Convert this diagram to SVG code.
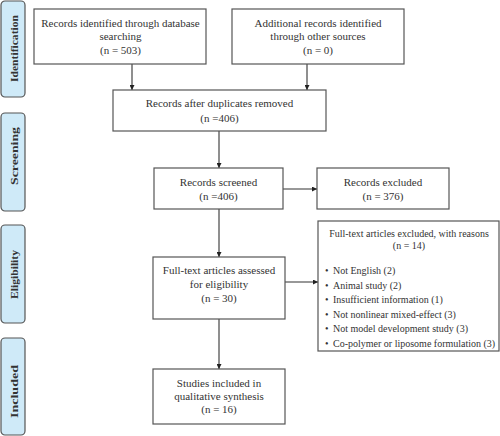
<svg xmlns="http://www.w3.org/2000/svg" width="500" height="436" viewBox="0 0 500 436">
<style>
.box{fill:#fff;stroke:#555;stroke-width:1.2}
.side{fill:#cfeaf8;stroke:#555;stroke-width:1.2}
.t{font-family:"Liberation Serif","Times New Roman",serif;font-size:11px;fill:#333;text-anchor:middle}
.r{font-family:"Liberation Serif","Times New Roman",serif;font-size:10px;fill:#333}
.rt{font-family:"Liberation Serif","Times New Roman",serif;font-size:10px;fill:#333;text-anchor:middle}
.s{font-family:"Liberation Serif","Times New Roman",serif;font-size:11px;font-weight:bold;fill:#333;text-anchor:middle}
.c{stroke:#333;stroke-width:1.1;fill:none;marker-end:url(#ah)}
</style>
<defs>
<marker id="ah" viewBox="0 0 10 10" refX="10" refY="5" markerWidth="5" markerHeight="5" markerUnits="userSpaceOnUse" orient="auto">
<path d="M0,0L10,5L0,10z" fill="#222"/>
</marker>
</defs>
<rect width="500" height="436" fill="#fff"/>
<g id="phase-identification">
<rect class="side" x="1" y="1" width="24" height="96" rx="4"/>
<text class="s" transform="translate(18,48.5) rotate(-90)" textLength="67" lengthAdjust="spacingAndGlyphs">Identification</text>
</g>
<g id="phase-screening">
<rect class="side" x="1" y="113" width="24" height="98" rx="4"/>
<text class="s" transform="translate(18,156) rotate(-90)" textLength="58" lengthAdjust="spacingAndGlyphs">Screening</text>
</g>
<g id="phase-eligibility">
<rect class="side" x="1" y="225" width="24" height="98" rx="4"/>
<text class="s" transform="translate(18,274.5) rotate(-90)" textLength="49" lengthAdjust="spacingAndGlyphs">Eligibility</text>
</g>
<g id="phase-included">
<rect class="side" x="1" y="338" width="24" height="97" rx="4"/>
<text class="s" transform="translate(18,391.5) rotate(-90)" textLength="53" lengthAdjust="spacingAndGlyphs">Included</text>
</g>
<g id="connectors">
<path class="c" d="M132,64V90"/>
<path class="c" d="M307,64V90"/>
<path class="c" d="M219,131V168"/>
<path class="c" d="M283,189H317"/>
<path class="c" d="M219,209V257"/>
<path class="c" d="M285,282H318"/>
<path class="c" d="M219,319V369"/>
</g>
<g id="node-db">
<rect class="box" x="34" y="9" width="172" height="55"/>
<text class="t" x="120.5" y="27">Records identified through database</text>
<text class="t" x="120.5" y="40">searching</text>
<text class="t" x="120.5" y="53.5">(n = 503)</text>
</g>
<g id="node-other">
<rect class="box" x="232" y="9" width="172" height="55"/>
<text class="t" x="318" y="27">Additional records identified</text>
<text class="t" x="318" y="40">through other sources</text>
<text class="t" x="318" y="53.5">(n = 0)</text>
</g>
<g id="node-dup">
<rect class="box" x="113" y="90" width="213" height="41"/>
<text class="t" x="219.5" y="107">Records after duplicates removed</text>
<text class="t" x="219.5" y="121.5">(n =406)</text>
</g>
<g id="node-screened">
<rect class="box" x="154" y="168" width="129" height="41"/>
<text class="t" x="218.5" y="186">Records screened</text>
<text class="t" x="218.5" y="199.5">(n =406)</text>
</g>
<g id="node-excluded">
<rect class="box" x="317" y="168" width="132" height="41"/>
<text class="t" x="383" y="186">Records excluded</text>
<text class="t" x="383" y="199.5">(n = 376)</text>
</g>
<g id="node-fulltext">
<rect class="box" x="153" y="257" width="132" height="62"/>
<text class="t" x="219" y="274">Full-text articles assessed</text>
<text class="t" x="219" y="287.5">for eligibility</text>
<text class="t" x="219" y="301.5">(n = 30)</text>
</g>
<g id="node-reasons">
<rect class="box" x="318" y="221" width="181" height="130"/>
<text class="rt" x="409" y="236.5">Full-text articles excluded, with reasons</text>
<text class="rt" x="409" y="249">(n = 14)</text>
<text class="r" x="325" y="274">•<tspan x="333">Not English (2)</tspan></text>
<text class="r" x="325" y="288.5">•<tspan x="333">Animal study (2)</tspan></text>
<text class="r" x="325" y="303">•<tspan x="333">Insufficient information (1)</tspan></text>
<text class="r" x="325" y="317.5">•<tspan x="333">Not nonlinear mixed-effect (3)</tspan></text>
<text class="r" x="325" y="332">•<tspan x="333">Not model development study (3)</tspan></text>
<text class="r" x="325" y="346.5">•<tspan x="333">Co-polymer or liposome formulation (3)</tspan></text>
</g>
<g id="node-included">
<rect class="box" x="153" y="369" width="132" height="55"/>
<text class="t" x="219" y="386.5">Studies included in</text>
<text class="t" x="219" y="399.5">qualitative synthesis</text>
<text class="t" x="219" y="413">(n = 16)</text>
</g>
</svg>
